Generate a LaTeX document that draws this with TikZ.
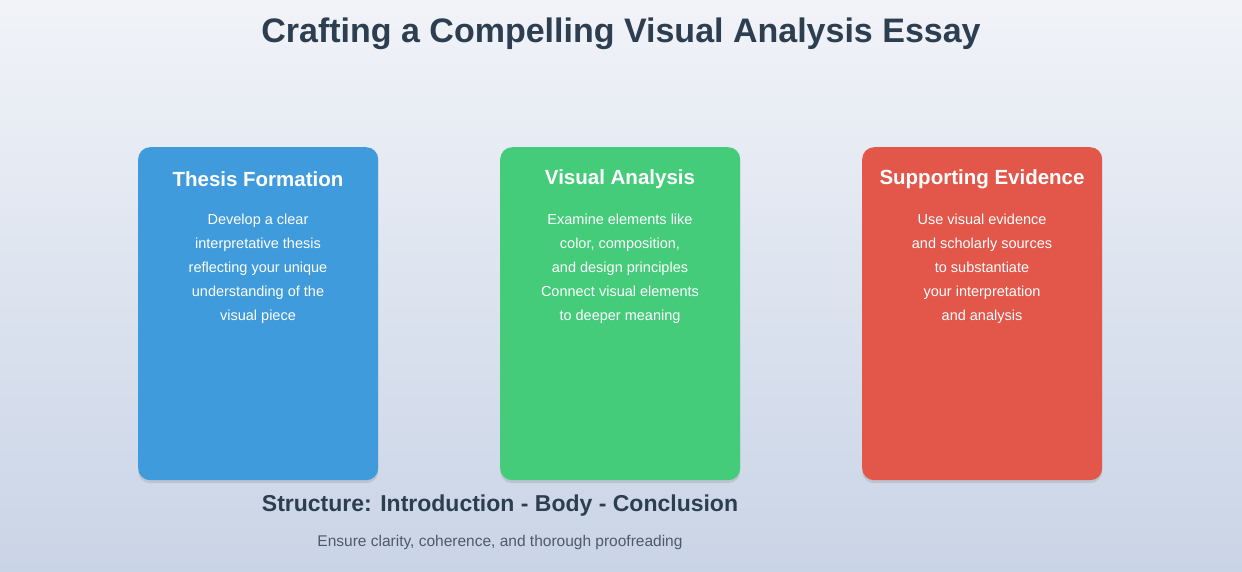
\documentclass[tikz,border=0pt]{standalone}
\usepackage{fontspec}
\setmainfont{Liberation Sans}
\usetikzlibrary{positioning,shadows}

\definecolor{titlecol}{HTML}{2C3E50}
\definecolor{bluecard}{HTML}{3F9BDB}
\definecolor{greencard}{HTML}{44CC7A}
\definecolor{redcard}{HTML}{E2574A}
\definecolor{bgtop}{HTML}{F1F3F8}
\definecolor{bgbot}{HTML}{C9D4E6}

\tikzset{
  card/.style={rounded corners=12pt, minimum width=240pt, minimum height=333pt,
    anchor=north west, draw=none,
    drop shadow={shadow xshift=0pt, shadow yshift=-3pt, opacity=0.18, fill=black!60}},
  cardhead/.style={text=white, font=\bfseries\fontsize{20.5}{24}\selectfont},
  cardtext/.style={text=white, align=center, font=\fontsize{14.5}{24}\selectfont},
}

\begin{document}
\begin{tikzpicture}[x=1pt,y=-1pt]
        \shade[top color=bgtop, bottom color=bgbot] (0,0) rectangle (1242,572);
        \useasboundingbox (0,0) rectangle (1242,572);

        \node (title) at (621,34) {\textcolor{titlecol}{\bfseries\fontsize{34}{40}\selectfont Crafting a Compelling Visual Analysis Essay}};

        % the three cards
        \node[card, fill=bluecard] (thesis) at (138,147) {};
        \node[card, fill=greencard] (visual) at (500,147) {};
        \node[card, fill=redcard] (evidence) at (862,147) {};

        \node[cardhead] (thesishead) at (258,179) {Thesis Formation};
        \node[cardhead] (visualhead) at (620,179) {Visual Analysis};
        \node[cardhead] (evidencehead) at (982,179) {Supporting Evidence};

        \node[cardtext] (thesistext) at (258,269) {Develop a clear\\interpretative thesis\\reflecting your unique\\understanding of the\\visual piece};
        \node[cardtext] (visualtext) at (620,269) {Examine elements like\\color, composition,\\and design principles\\Connect visual elements\\to deeper meaning};
        \node[cardtext] (evidencetext) at (982,269) {Use visual evidence\\and scholarly sources\\to substantiate\\your interpretation\\and analysis};

        % structure line at the bottom
        \node[text=titlecol, font=\bfseries\fontsize{23}{27}\selectfont] (structure) at (500,506) {Structure: Introduction - Body - Conclusion};
        \node[text=titlecol!85, font=\fontsize{15.5}{18}\selectfont] (ensure) at (500,542) {Ensure clarity, coherence, and thorough proofreading};
\end{tikzpicture}
\end{document}
